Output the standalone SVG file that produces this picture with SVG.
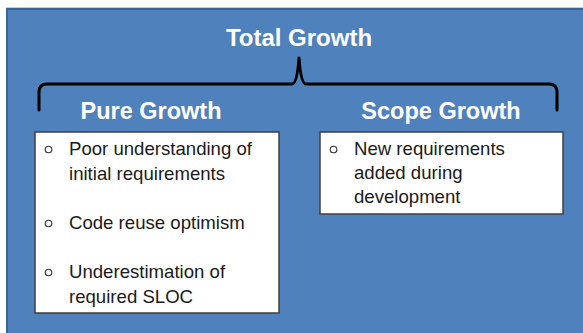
<svg xmlns="http://www.w3.org/2000/svg" width="583" height="333" viewBox="0 0 583 333">
  <style>
    .head { font-family: "Liberation Sans", Arial, sans-serif; font-weight: bold; fill: #ffffff; text-anchor: middle; }
    .item { font-family: "Liberation Sans", Arial, sans-serif; font-size: 18.6px; fill: #1a1a1a; }
    .box { fill: #ffffff; stroke: #3f3f3f; stroke-width: 1.5; }
    .dot { fill: none; stroke: #333333; stroke-width: 1.1; }
    .brace { fill: none; stroke: #000000; stroke-width: 3; stroke-linejoin: round; stroke-linecap: round; }
  </style>

  <!-- backdrop panel -->
  <rect x="0" y="0" width="583" height="333" fill="#ffffff"/>
  <line x1="6" y1="7.5" x2="583" y2="7.5" stroke="#c8ccd2" stroke-width="1"/>
  <rect x="7" y="9" width="590" height="340" fill="#4f81bd" stroke="#3b6598" stroke-width="2"/>

  <g id="total">
    <text class="head" x="299" y="46" font-size="24">Total Growth</text>
  </g>

  <g id="connectors">
    <path class="brace" d="M39,110 L39,92 Q39,84 47,84 L292,84 Q297,84 299,58 Q301,84 306,84 L549,84 Q557,84 557,92 L557,110"/>
  </g>

  <g id="pure">
    <text class="head" x="151" y="119" font-size="23.5">Pure Growth</text>
    <rect class="box" x="35" y="132" width="244" height="181"/>
    <circle class="dot" cx="48.5" cy="149.5" r="3.3"/>
    <text class="item" x="69" y="155">Poor understanding of</text>
    <text class="item" x="69" y="180">initial requirements</text>
    <circle class="dot" cx="48.5" cy="223.5" r="3.3"/>
    <text class="item" x="69" y="229">Code reuse optimism</text>
    <circle class="dot" cx="48.5" cy="272.5" r="3.3"/>
    <text class="item" x="69" y="278">Underestimation of</text>
    <text class="item" x="69" y="303">required SLOC</text>
  </g>

  <g id="scope">
    <text class="head" x="441" y="119" font-size="23.5">Scope Growth</text>
    <rect class="box" x="320" y="132" width="243" height="82"/>
    <circle class="dot" cx="333.5" cy="149.5" r="3.3"/>
    <text class="item" x="354" y="155">New requirements</text>
    <text class="item" x="354" y="179">added during</text>
    <text class="item" x="354" y="203">development</text>
  </g>
</svg>
